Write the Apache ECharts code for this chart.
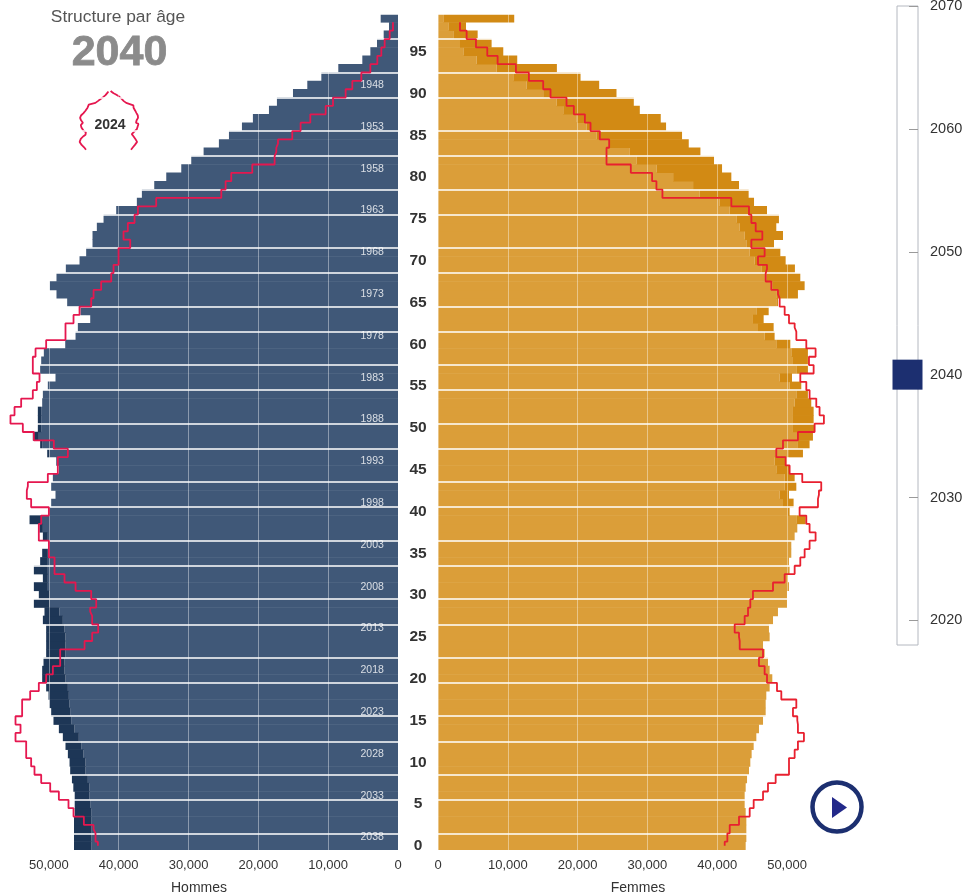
<!DOCTYPE html>
<html><head><meta charset="utf-8">
<style>html,body{margin:0;padding:0;background:#fff}#c{width:967px;height:896px}</style>
<script src="https://cdn.jsdelivr.net/npm/echarts@6/dist/echarts.min.js"></script>
</head><body><div id="c"></div>
<script>
const ages=[0,1,2,3,4,5,6,7,8,9,10,11,12,13,14,15,16,17,18,19,20,21,22,23,24,25,26,27,28,29,30,31,32,33,34,35,36,37,38,39,40,41,42,43,44,45,46,47,48,49,50,51,52,53,54,55,56,57,58,59,60,61,62,63,64,65,66,67,68,69,70,71,72,73,74,75,76,77,78,79,80,81,82,83,84,85,86,87,88,89,90,91,92,93,94,95,96,97,98,99];
// values are listed from age 0 to age 99
const menOuter=[46400,46400,46400,46400,46300,46300,46300,46500,46700,46950,47040,47280,47620,48000,48570,49340,49670,49910,50050,50390,50960,50960,50770,50390,50390,50390,50390,50860,50630,52150,51440,52150,50860,52150,51250,50960,50000,50860,51340,52770,50000,49670,49050,49670,49430,48570,48950,50240,51250,52300,51580,51580,51580,50960,50860,50150,49050,51250,51100,50720,47660,46180,45850,44080,45470,47380,48910,49860,48910,47570,45610,44660,43750,43750,43130,42170,40360,37400,36680,34910,33190,31040,29610,27840,25650,24210,22350,20780,18480,17340,15040,12990,10980,8550,5110,3960,3010,2050,1290,2480];
const menInner=[43940,43940,43940,43940,43940,44080,44180,44180,44420,44750,44750,45040,45370,45710,46330,46800,46950,47040,47140,47280,47620,47760,47760,47620,47620,47620,47760,48000,48480,49910,49910,50150,50150,50150,50150,50150,50000,50150,50860,51100,50000,49670,49050,49670,49430,48570,48950,49910,50960,51440,51100,51100,51100,50960,50860,50150,49050,51250,51100,50720,47660,46180,45850,44080,45470,47380,48910,49860,48910,47570,45610,44660,43750,43750,43130,42170,40360,37400,36680,34910,33190,31040,29610,27840,25650,24210,22350,20780,18480,17340,15040,12990,10980,8550,5110,3960,3010,2050,1290,2480];
const womenOuter=[44075,44170,44170,44170,44075,43930,43930,44075,44270,44550,44740,44930,45220,45600,45980,46560,46940,46940,47030,47510,47890,47510,47270,46790,46560,47510,47410,47990,48700,49990,49990,50280,50130,50370,50280,50610,50610,51090,51470,52660,50370,50940,50280,51330,51090,50370,49890,52280,53230,53710,53950,53810,53810,53470,52990,52040,50710,52990,52990,52990,50470,48220,48080,46650,47370,48700,51560,52520,51900,51130,49800,49040,48130,49420,48460,48840,47130,45270,44500,43120,42020,40690,39540,37590,35920,34960,32670,31910,28910,28050,25570,23090,20420,17030,11350,9350,7680,5680,4010,10920];
const womenInner=[44075,44170,44170,44170,44075,43930,43930,44075,44270,44550,44740,44930,45220,45600,45980,46560,46940,46940,47030,47510,47890,47510,47270,46790,46560,47510,47410,47990,48700,49990,49990,50280,50130,50370,50280,50610,50610,51090,51470,51330,50130,49420,48940,49660,49660,48460,48220,50280,51560,51560,50850,50850,50850,51090,51330,50370,48940,51330,50850,50610,48460,46790,45840,45120,45600,48460,48460,47990,47030,46320,45360,44650,44170,43930,43220,42740,41790,40350,37490,36540,33680,31290,28430,27480,24610,22710,21270,19840,17940,16980,15070,12690,10780,8400,5530,3630,3150,2190,1480,760];
const men2024=[42980,43320,43600,44990,46470,47190,48570,49810,51100,52060,52540,53250,53250,54780,54060,54780,53830,53830,52680,51440,50390,49430,48380,48380,44890,43800,42940,43800,44080,43220,43940,46180,47760,49190,49190,50000,50000,51440,51440,51100,50000,52540,53160,53010,50150,48720,48720,47280,49290,52150,53730,55500,54920,53970,52300,51720,51340,52300,52300,51910,50390,47620,47620,46470,45610,43940,43600,42510,41070,40740,40020,40020,38350,39310,38690,37730,37250,34630,25310,24690,23880,20870,17670,17430,17190,15140,13950,12560,10360,9310,7500,6540,5250,3960,2960,2390,1910,1190,720,'-'];
const women2024=[41070,41450,41790,43120,44650,45220,46560,47270,48370,50280,50280,51090,51560,52420,51560,51470,50850,51330,49180,48560,47130,46790,45980,46560,43220,43120,42500,43930,44410,44740,45120,47990,49660,51090,51900,52520,53230,54090,53230,52760,51800,54430,54570,54900,52180,50370,49800,48460,49420,51560,53950,55280,54660,54190,53230,52760,51900,53810,53140,54090,52760,51330,51090,50280,49660,48940,48700,47750,46940,47130,45840,46790,44890,46460,45510,44890,44550,42020,32150,31290,30670,27620,24140,24140,24520,23180,21850,21040,19460,18410,16120,15070,13020,11160,8540,7060,5440,4100,3150,'-'];
const rowBoundaries=[2,6,9,13,16,20,23,27,30,34,37,41,44,48,51,55,58,62,65,69,72,76,79,83,86,90,93,97];
const birthYears=[1948,1953,1958,1963,1968,1973,1978,1983,1988,1993,1998,2003,2008,2013,2018,2023,2028,2033,2038];
const sliderYears=[2020,2030,2040,2050,2060,2070];
const selectedYear=2040, referenceYear=2024;

const MEN='#405878',MEN_D='#1d3656',WOM='#db9e39',WOM_D='#d28a14',RED='#e5174f',RED2='#e8202f',NAVY='#1c2f70';
const FONT='"Liberation Sans",Arial,sans-serif';
const extra=(outer,inner)=>outer.map((v,i)=>v>inner[i]?v-inner[i]:'-');
const xAxisBase={type:'value',min:0,interval:10000,z:5,
  axisLine:{show:false},axisTick:{show:false},
  axisLabel:{color:'#333',fontSize:13,fontFamily:FONT,margin:9,showMaxLabel:false},
  nameLocation:'middle',nameGap:31,nameTextStyle:{color:'#333',fontSize:14,fontFamily:FONT},
  splitLine:{show:true,lineStyle:{color:'rgba(255,255,255,0.4)',width:1}}};
const yAxisBase={type:'category',data:ages,z:5,axisLine:{show:false},axisTick:{show:false},
  splitLine:{show:true,interval:(i)=>rowBoundaries.includes(i),lineStyle:{color:'#fff',width:1.6}}};
const barStyle=(c)=>({color:c,borderWidth:0});
const chart=echarts.init(document.getElementById('c'),null,{renderer:'canvas'});
chart.setOption({
  animation:false,backgroundColor:'#fff',
  title:[
    {text:'Structure par âge',left:118,top:9,padding:0,textAlign:'center',textStyle:{fontSize:17.4,fontWeight:'normal',color:'#555',fontFamily:FONT}},
    {text:String(selectedYear),left:119.5,top:32,padding:0,textAlign:'center',textStyle:{fontSize:43,fontWeight:'bold',color:'#8b8b8b',fontFamily:FONT,textBorderColor:'#8b8b8b',textBorderWidth:0.8}},
    {text:String(referenceYear),left:110,top:118,padding:0,textAlign:'center',textStyle:{fontSize:14,fontWeight:'bold',color:'#333',fontFamily:FONT}}
  ],
  grid:[
    {left:0,top:14,width:398,height:836,outerBoundsMode:'none'},
    {left:438,top:14,width:400,height:836,outerBoundsMode:'none'},
    {left:79,top:90,width:60,height:60,outerBoundsMode:'none'},
    {left:897,top:6,width:21,height:639,outerBoundsMode:'none',show:true,borderColor:'#b4b8c0',borderWidth:1,backgroundColor:'transparent'}
  ],
  xAxis:[
    Object.assign({},xAxisBase,{gridIndex:0,max:57000,inverse:true,name:'Hommes'}),
    Object.assign({},xAxisBase,{gridIndex:1,max:57300,name:'Femmes'}),
    {gridIndex:2,type:'value',min:-56000,max:56000,show:false},
    {gridIndex:3,type:'value',min:0,max:1,show:false}
  ],
  yAxis:[
    Object.assign({},yAxisBase,{gridIndex:0,position:'right',
      axisLabel:{interval:4,color:'#333',fontSize:15.5,fontWeight:'bold',fontFamily:FONT,align:'center',margin:20}}),
    Object.assign({},yAxisBase,{gridIndex:1,axisLabel:{show:false}}),
    {gridIndex:2,type:'category',data:ages,show:false},
    {gridIndex:3,type:'value',min:2018,max:2070,position:'right',z:1,
      axisLine:{show:false,onZero:false},splitLine:{show:false},
      axisTick:{inside:true,length:9,customValues:sliderYears,lineStyle:{color:'#9a9a9a'}},
      axisLabel:{customValues:sliderYears,color:'#333',fontSize:14.5,fontFamily:FONT,margin:12,formatter:(v)=>String(v)}}
  ],
  series:[
    {type:'bar',xAxisIndex:0,yAxisIndex:0,stack:'m',data:menInner,barWidth:'106%',itemStyle:barStyle(MEN),z:2},
    {type:'bar',xAxisIndex:0,yAxisIndex:0,stack:'m',data:extra(menOuter,menInner),barWidth:'106%',itemStyle:barStyle(MEN_D),z:3},
    {type:'bar',xAxisIndex:1,yAxisIndex:1,stack:'w',data:womenInner,barWidth:'106%',itemStyle:barStyle(WOM),z:2},
    {type:'bar',xAxisIndex:1,yAxisIndex:1,stack:'w',data:extra(womenOuter,womenInner),barWidth:'106%',itemStyle:barStyle(WOM_D),z:3},
    {type:'line',xAxisIndex:0,yAxisIndex:0,data:men2024,step:'middle',symbol:'none',z:8,lineStyle:{color:RED,width:1.8}},
    {type:'line',xAxisIndex:1,yAxisIndex:1,data:women2024,step:'middle',symbol:'none',z:8,lineStyle:{color:RED2,width:1.8}},
    {type:'scatter',xAxisIndex:0,yAxisIndex:0,symbolSize:0,z:9,silent:true,
      data:birthYears.map(y=>[3700,selectedYear-1-y,y]),
      label:{show:true,position:'inside',formatter:(p)=>String(p.value[2]),color:'#fff',fontSize:10.5,fontFamily:FONT}},
    {type:'line',xAxisIndex:2,yAxisIndex:2,data:men2024.map(v=>v==='-'?'-':-v),symbol:'none',z:3,lineStyle:{color:RED,width:1.8}},
    {type:'line',xAxisIndex:2,yAxisIndex:2,data:women2024,symbol:'none',z:3,lineStyle:{color:RED,width:1.8}},
    {type:'scatter',xAxisIndex:3,yAxisIndex:3,data:[[0.5,selectedYear]],symbol:'rect',symbolSize:[30,30],itemStyle:{color:NAVY,opacity:1},z:4}
  ],
  graphic:{elements:[
    {type:'circle',z:50,silent:true,shape:{cx:837,cy:807,r:24.5},style:{fill:'none',stroke:NAVY,lineWidth:4.5}},
    {type:'polygon',z:50,silent:true,shape:{points:[[832,797],[847,807.5],[832,818]]},style:{fill:'#23298a'}}
  ]}
});
</script></body></html>
